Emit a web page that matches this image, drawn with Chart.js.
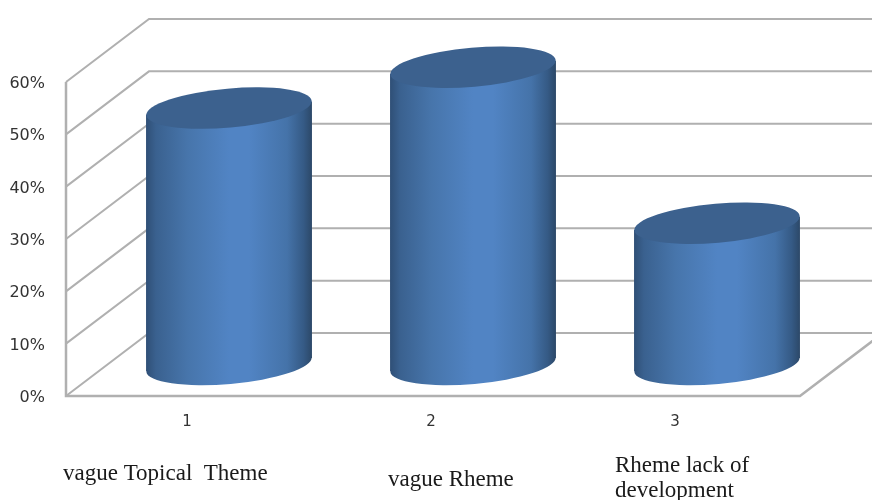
<!DOCTYPE html>
<html>
<head>
<meta charset="utf-8">
<style>
  html, body { margin: 0; padding: 0; background: #fff; }
  canvas { display: block; }
</style>
<script src="https://cdn.jsdelivr.net/npm/chart.js@4"></script>
</head>
<body>
<canvas id="myChart" width="872" height="500"></canvas>
<script>
// chart data
const categories = ['1', '2', '3'];
const percents = [49, 56.8, 27];
const yTicks = [0, 10, 20, 30, 40, 50, 60];
const captions = [
  { lines: ['vague Topical  Theme'], x: 63, y: 480 },
  { lines: ['vague Rheme'], x: 388, y: 486 },
  { lines: ['Rheme lack of', 'development'], x: 615, y: 472 }
];

// offset of the back wall from the front plane
const depthX = 83;
const depthY = -63;
const wallColor = '#b0b0b0';

// walls and floor, drawn from the y scale
const wallsPlugin = {
  id: 'walls',
  beforeDatasetsDraw(chart) {
    const ctx = chart.ctx;
    const area = chart.chartArea;
    const y = chart.scales.y;
    const left = area.left + 1;
    ctx.save();
    ctx.strokeStyle = wallColor;
    ctx.lineWidth = 2;
    yTicks.forEach(t => {
      const py = y.getPixelForValue(t);
      ctx.beginPath();
      ctx.moveTo(left, py);
      ctx.lineTo(left + depthX, py + depthY);
      ctx.lineTo(chart.width, py + depthY);
      ctx.stroke();
    });
    ctx.lineWidth = 2.5;
    ctx.beginPath();
    ctx.moveTo(left, area.top);
    ctx.lineTo(left, area.bottom);
    ctx.lineTo(area.right + 3, area.bottom);
    ctx.lineTo(area.right + 3 + depthX, area.bottom + depthY);
    ctx.stroke();
    ctx.restore();
  }
};

// cylinders sit half way into the depth, sized from the bar elements
const cylinderPlugin = {
  id: 'cylinders',
  afterDatasetsDraw(chart) {
    const ctx = chart.ctx;
    const tilt = -5 * Math.PI / 180;
    chart.getDatasetMeta(0).data.forEach(bar => {
      const cx = bar.x + depthX / 2 + 0.5;
      const topY = bar.y + depthY / 2;
      const baseY = bar.base + depthY / 2;
      const a = bar.width / 2;
      const b = 19.5;
      const sideDy = 6.5;

      const grad = ctx.createLinearGradient(cx - a, 0, cx + a, 0);
      grad.addColorStop(0, '#2f4f76');
      grad.addColorStop(0.06, '#3a618f');
      grad.addColorStop(0.25, '#4775ab');
      grad.addColorStop(0.5, '#5184c4');
      grad.addColorStop(0.62, '#5184c4');
      grad.addColorStop(0.85, '#4573a9');
      grad.addColorStop(0.95, '#355a85');
      grad.addColorStop(1, '#2c4868');

      ctx.save();
      ctx.fillStyle = grad;
      ctx.beginPath();
      ctx.ellipse(cx, baseY, a, b, tilt, 0, Math.PI * 2);
      ctx.fill();
      ctx.beginPath();
      ctx.moveTo(cx - a, topY + sideDy);
      ctx.lineTo(cx - a, baseY + sideDy);
      ctx.lineTo(cx + a, baseY - sideDy);
      ctx.lineTo(cx + a, topY - sideDy);
      ctx.closePath();
      ctx.fill();
      ctx.fillStyle = '#3c618e';
      ctx.beginPath();
      ctx.ellipse(cx, topY, a, b, tilt, 0, Math.PI * 2);
      ctx.fill();
      ctx.restore();
    });
  }
};

// serif captions under the axis numbers
const captionPlugin = {
  id: 'captions',
  afterDraw(chart) {
    const ctx = chart.ctx;
    ctx.save();
    ctx.font = '23px "Liberation Serif"';
    ctx.fillStyle = '#1a1a1a';
    ctx.textAlign = 'left';
    ctx.textBaseline = 'alphabetic';
    captions.forEach(c => {
      c.lines.forEach((line, i) => ctx.fillText(line, c.x, c.y + i * 25));
    });
    ctx.restore();
  }
};

const yTickFont = { family: '"DejaVu Sans"', size: 16 };
const xTickFont = { family: '"DejaVu Sans"', size: 15 };

new Chart(document.getElementById('myChart').getContext('2d'), {
  type: 'bar',
  data: {
    labels: categories,
    datasets: [{
      data: percents,
      backgroundColor: 'transparent',
      borderWidth: 0,
      barPercentage: 0.68,
      categoryPercentage: 1
    }]
  },
  options: {
    responsive: false,
    animation: false,
    layout: { padding: { top: 82, right: 75, left: 0, bottom: 0 } },
    plugins: {
      legend: { display: false },
      tooltip: { enabled: false }
    },
    scales: {
      x: {
        grid: { display: false },
        border: { display: false },
        ticks: { color: '#333', font: xTickFont, padding: 9, maxRotation: 0 },
        afterFit(scale) { scale.height = 104; }
      },
      y: {
        min: 0,
        max: 60,
        grid: { display: false },
        border: { display: false },
        ticks: {
          stepSize: 10,
          color: '#333',
          font: yTickFont,
          padding: 12,
          labelOffset: 2,
          callback: v => v + '%'
        },
        afterFit(scale) { scale.width = 65; }
      }
    }
  },
  plugins: [wallsPlugin, cylinderPlugin, captionPlugin]
});
</script>
</body>
</html>
